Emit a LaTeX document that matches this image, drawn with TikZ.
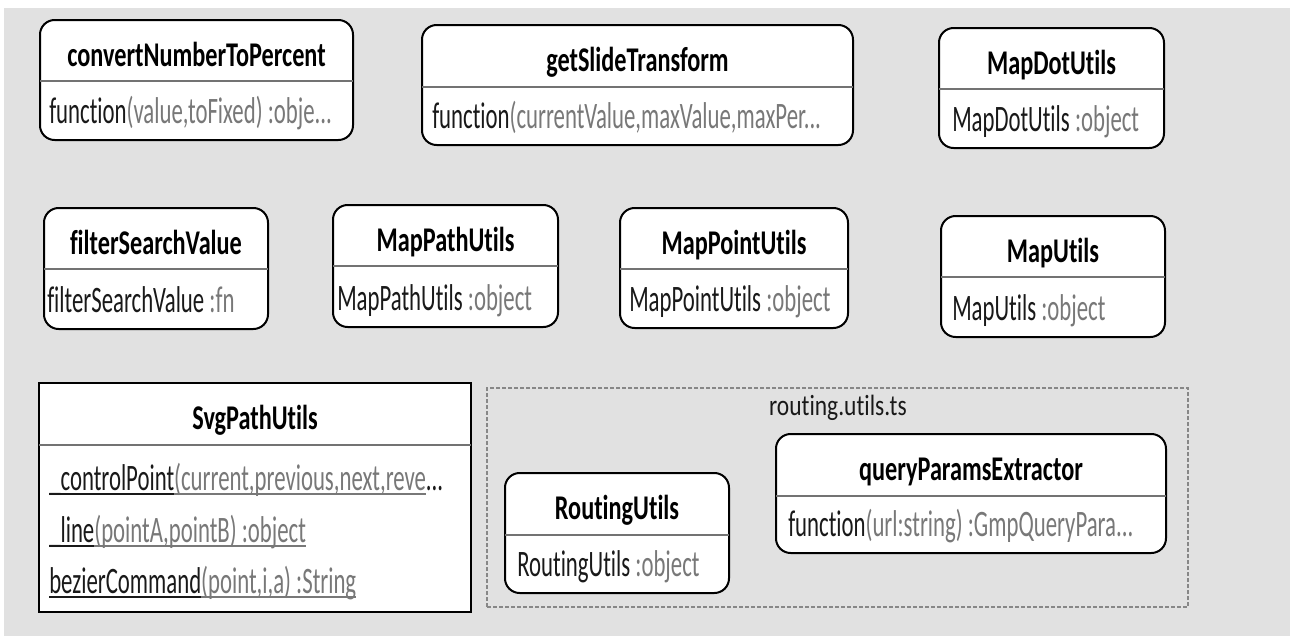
\documentclass[tikz,border=0pt]{standalone}
\usepackage{fontspec}
\usetikzlibrary{fit}
\setmainfont[Ligatures=NoCommon]{Carlito}
\newfontfamily\titlefont[FakeStretch=0.70,Ligatures=NoCommon]{Carlito}
\newfontfamily\bodyfont[FakeStretch=0.61,Ligatures=NoCommon]{Carlito}
\newfontfamily\labelfont[FakeStretch=0.80,Ligatures=NoCommon]{Carlito}
\definecolor{bggray}{RGB}{225,225,225}
\definecolor{txtgray}{RGB}{120,120,120}
\definecolor{sepgray}{RGB}{115,115,115}
\definecolor{dashgray}{RGB}{135,135,135}
\definecolor{txtdark}{RGB}{25,25,25}
\newcommand\pp[1]{\textcolor{txtgray}{#1}}
\newsavebox\myulbox
\newcommand\myul[1]{\sbox\myulbox{#1}\rlap{\usebox\myulbox}\rule[-3.5pt]{\wd\myulbox}{0.9pt}}
\tikzset{
  classbox/.style={draw=black, line width=1.5pt, fill=white, rounded corners=11pt, inner sep=0pt},
  sqbox/.style={draw=black, line width=1.5pt, fill=white, inner sep=0pt},
  sepline/.style={draw=sepgray, line width=1.3pt},
  titletext/.style={anchor=base, inner sep=0pt, font=\titlefont\bfseries\fontsize{26}{30}\selectfont, text=black},
  bodytext/.style={anchor=base west, inner sep=0pt, font=\bodyfont\fontsize{28}{32}\selectfont, text=txtdark},
  pkgbox/.style={draw=dashgray, line width=1pt, dash pattern=on 3pt off 1.5pt, inner sep=0pt},
  pkglabel/.style={anchor=base, inner sep=0pt, font=\labelfont\fontsize{22}{26}\selectfont, text=txtdark}
}
% #1 name, #2 x1, #3 y1, #4 x2, #5 y2, #6 separator y, #7 title, #8 body x, #9 body
\newcommand\ClassBox[9]{%
  \node[classbox, fit={(#2,#3) (#4,#5)}] (#1) {};
  \draw[sepline] (#2,#6) -- (#4,#6);
  \node[titletext] (#1-title) at ({(#2+#4)/2},{#3+46}) {#7};
  \node[bodytext] (#1-body) at (#8,{#5-17}) {#9};
}
\begin{document}
\begin{tikzpicture}[x=0.75pt, y=-0.75pt]
\useasboundingbox (0,0) rectangle (1290,636);
\fill[white] (0,0) rectangle (1290,636);
\fill[bggray] (4,8) rectangle (1290,636);

% package container
\node[pkgbox, fit={(487,388) (1188,607)}] (routing) {};
\node[pkglabel] (routinglabel) at (838,415) {routing.utils.ts};

\ClassBox{cnp}{40}{20}{353}{140}{81}{convertNumberToPercent}{49}{function\pp{(value,toFixed)\ :obje...}}
\ClassBox{gst}{422}{25}{853}{145}{87}{getSlideTransform}{432}{function\pp{(currentValue,maxValue,maxPer...}}
\ClassBox{mdu}{939}{28}{1164}{148}{89}{MapDotUtils}{952}{MapDotUtils\ \pp{:object}}
\ClassBox{fsv}{44}{208}{268}{329}{269}{filterSearchValue}{47}{filterSearchValue\ \pp{:fn}}
\ClassBox{mpa}{333}{205}{558}{327}{266}{MapPathUtils}{337}{MapPathUtils\ \pp{:object}}
\ClassBox{mpo}{620}{208}{848}{328}{269}{MapPointUtils}{629}{MapPointUtils\ \pp{:object}}
\ClassBox{mu}{941}{216}{1165}{337}{277}{MapUtils}{952}{MapUtils\ \pp{:object}}
\ClassBox{ru}{505}{473}{729}{593}{535}{RoutingUtils}{517}{RoutingUtils\ \pp{:object}}
\ClassBox{qpe}{776}{434}{1166}{553}{496}{queryParamsExtractor}{788}{function\pp{(url:string)\ :GmpQueryPara...}}

% SvgPathUtils (square class box with static members)
\node[sqbox, fit={(39,383) (471,612)}] (svg) {};
\draw[sepline] (39,445) -- (471,445);
\node[titletext] (svg-title) at (255,429) {SvgPathUtils};
\node[bodytext] (svg-m1) at (49,490) {\myul{\_controlPoint}\textcolor{txtgray}{\myul{(current,previous,next,reve}}...};
\node[bodytext] (svg-m2) at (49,542) {\myul{\_line}\textcolor{txtgray}{\myul{(pointA,pointB)\ :object}}};
\node[bodytext] (svg-m3) at (49,593) {\myul{bezierCommand}\textcolor{txtgray}{\myul{(point,i,a)\ :String}}};
\end{tikzpicture}
\end{document}
